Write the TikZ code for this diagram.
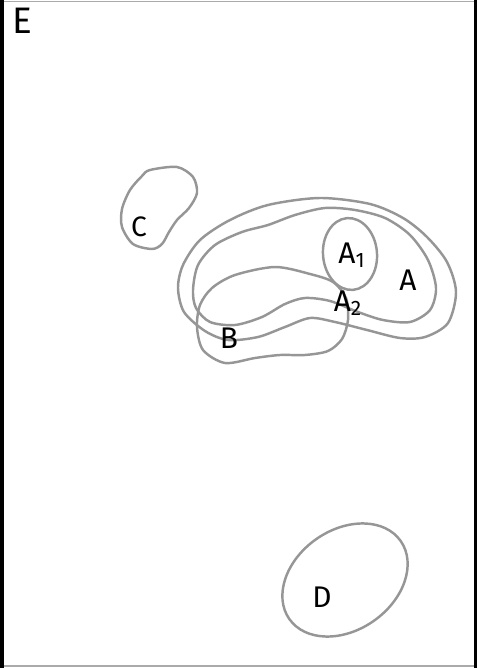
\documentclass[tikz,border=0pt]{standalone}
\usepackage{fontspec}
\setmainfont{Fira Sans}
\definecolor{blobgray}{RGB}{150,150,150}
\definecolor{framegray}{RGB}{170,170,170}
\begin{document}
\begin{tikzpicture}[x=0.02cm,y=-0.02cm,
  blob/.style={draw=blobgray,line width=1.4pt},
  lbl/.style={font=\fontsize{17}{19}\selectfont,inner sep=0pt}]
\useasboundingbox (0,0) rectangle (477,668);
\fill[black] (0,0) rectangle (4,668);
\fill[black] (474,0) rectangle (477,668);
\draw[framegray,line width=0.6pt] (4,1.5) -- (474,1.5);
\draw[framegray,line width=0.6pt] (4,666) -- (474,666);

% the sets
\draw[blob] plot[smooth cycle] coordinates {(150,170) (177,167) (193,177) (197,193) (189,208) (177,220) (169,232) (162,244) (152,249) (133,244) (122,227) (122,209) (130,190) (142,176)};
\draw[blob] plot[smooth cycle] coordinates {(178,288) (183,265) (200,240) (230,220) (268,205) (320,198) (370,204) (403,218) (427,237) (447,262) (456,292) (448,323) (425,337) (400,338) (367,330) (335,322) (310,318) (285,327) (258,337) (228,340) (205,331) (184,312)};
\draw[blob] plot[smooth cycle] coordinates {(193,290) (198,265) (215,245) (242,232) (268,225) (295,215) (325,208) (355,210) (385,218) (410,235) (428,260) (436,288) (430,310) (410,322) (383,320) (358,312) (330,301) (305,298) (285,304) (262,317) (235,325) (210,322) (196,308)};
\draw[blob] plot[smooth cycle] coordinates {(197,327) (200,305) (212,288) (235,275) (275,267) (310,274) (333,282) (346,298) (348,320) (342,339) (328,351) (305,355) (280,355) (255,358) (225,363) (203,350)};
\draw[blob] (350,254) ellipse [x radius=0.54cm, y radius=0.72cm, rotate=5];
\draw[blob] (345,580) ellipse [x radius=1.36cm, y radius=1.0cm, rotate=35];

\node[lbl,font=\fontsize{21}{23}\selectfont] (lblE) at (22,21) {E};
\node[lbl,font=\fontsize{16}{18}\selectfont] (lblC) at (139,227) {C};
\node[lbl] (lblAone) at (352,255) {A\textsubscript{1}};
\node[lbl] (lblA) at (408,280) {A};
\node[lbl] (lblAtwo) at (348,303) {A\textsubscript{2}};
\node[lbl] (lblB) at (229,338) {B};
\node[lbl] (lblD) at (322,597) {D};
\end{tikzpicture}
\end{document}
